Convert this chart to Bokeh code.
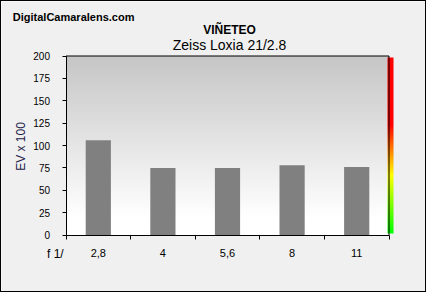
import numpy as np
from math import pi
from bokeh.plotting import figure
from bokeh.models import Range1d, FixedTicker, Label
from bokeh.embed import file_html
from bokeh.resources import INLINE

# ---- data ----
categories = ["2,8", "4", "5,6", "8", "11"]
ev_values = [106, 75, 75, 78, 76]
y_ticks = [0, 25, 50, 75, 100, 125, 150, 175, 200]

site = "DigitalCamaralens.com"
title1 = "VIÑETEO"
title2 = "Zeiss Loxia 21/2.8"
ylabel = "EV x 100"
xlabel = "f 1/"

FONT = "Liberation Sans"
n = len(categories)
xs = np.arange(n) + 0.5

W, H = 424, 290
PXX = 64.6    # px per category
PXY = 0.895   # px per EV unit
OX, OY = 64.5, 233.5   # canvas position of the origin

def dx(cx):  # canvas x -> data x
    return (cx - OX) / PXX

def dy(cy):  # canvas y -> data y
    return (OY - cy) / PXY

p = figure(width=W, height=H, frame_width=W, frame_height=H,
           min_border=0, min_border_left=0, min_border_right=0,
           min_border_top=0, min_border_bottom=0,
           x_range=Range1d(dx(0), dx(W)), y_range=Range1d(dy(H), dy(0)),
           output_backend="svg", toolbar_location=None,
           background_fill_color="#f0f0f0", border_fill_color="#f0f0f0",
           outline_line_color=None)
p.styles = {"border": "1px solid black"}
p.grid.visible = False

# gradient background of plotting area
g = 200
frac = np.linspace(0, 1, g)  # bottom -> top
lev = np.clip(255 - (255 - 198) * (frac - 0.1) / 0.9, 198, 255).astype(np.uint32)
grad = np.zeros((g, 1), dtype=np.uint32)
grad[:, 0] = (255 << 24) | (lev << 16) | (lev << 8) | lev
p.image_rgba(image=[grad], x=0, y=0, dw=n, dh=200)

# colour bar on the right
c = 200
t = np.linspace(0, 1, c)
r = np.interp(t, [0, 0.33, 0.62, 1], [0, 255, 255, 255])
gg = np.interp(t, [0, 0.33, 0.62, 1], [255, 255, 0, 0])
b = np.zeros_like(t)
cb = np.zeros((c, 1), dtype=np.uint32)
cb[:, 0] = (255 << 24) | (b.astype(np.uint32) << 16) | (gg.astype(np.uint32) << 8) | r.astype(np.uint32)
p.image_rgba(image=[cb], x=dx(386), y=dy(232), dw=6 / PXX, dh=176 / PXY)

# bars
p.vbar(x=xs, top=ev_values, width=0.39, bottom=0, fill_color="#808080", line_color=None)

# frame lines top/right
p.segment(x0=[0, n], y0=[200, 0], x1=[n, n], y1=[200, 200],
          line_color="black", line_width=1)

# axes through the origin
xa = p.xaxis[0]
xa.fixed_location = 0
xa.ticker = FixedTicker(ticks=list(xs), minor_ticks=list(range(n + 1)))
xa.major_label_overrides = {float(x): c_ for x, c_ in zip(xs, categories)}
xa.major_tick_out = 0
xa.major_tick_in = 0
xa.minor_tick_out = 4
xa.minor_tick_in = 0
xa.minor_tick_line_color = "black"
xa.axis_line_color = "black"
xa.bounds = (0, n)
xa.major_label_standoff = 10
xa.major_label_text_font = FONT
xa.major_label_text_font_size = "11px"
xa.major_label_text_color = "black"

ya = p.yaxis[0]
ya.fixed_location = 0
ya.ticker = FixedTicker(ticks=y_ticks, minor_ticks=[])
ya.major_tick_out = 4
ya.major_tick_in = 0
ya.major_tick_line_color = "black"
ya.axis_line_color = "black"
ya.bounds = (0, 200)
ya.major_label_standoff = 12
ya.major_label_text_font = FONT
ya.major_label_text_font_size = "10px"
ya.major_label_text_color = "black"

# texts
def lab(cx, cy, text, **kw):
    p.add_layout(Label(x=dx(cx), y=dy(cy), text=text, text_font=FONT,
                       text_color=kw.pop("text_color", "black"), **kw))

lab(11.3, 15.2, site, text_font_size="11px", text_font_style="bold", text_baseline="alphabetic")
lab(228, 28.8, title1, text_font_size="12px", text_font_style="bold", text_align="center",
    text_baseline="alphabetic")
lab(228, 43.6, title2, text_font_size="14px", text_align="center", text_baseline="alphabetic")
lab(19.5, 145, ylabel, text_font_size="12px", text_color="#201848", text_align="center",
    text_baseline="middle", angle=pi / 2)
lab(53.8, 252.5, xlabel, text_font_size="12px", text_align="center", text_baseline="alphabetic")

open("out.html", "w").write(file_html(p, INLINE))
